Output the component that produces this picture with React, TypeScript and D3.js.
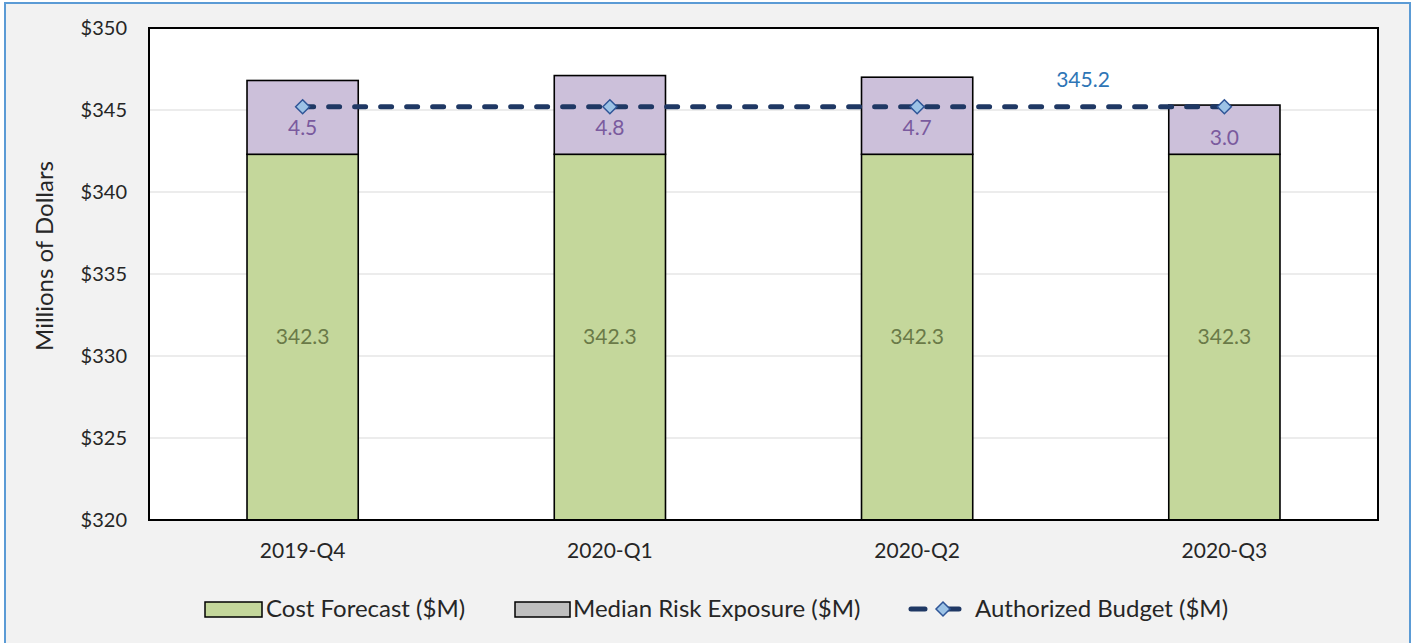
import React from "react";
import * as d3 from "d3";

const categories = ["2019-Q4", "2020-Q1", "2020-Q2", "2020-Q3"];
const costForecast = [342.3, 342.3, 342.3, 342.3];
const riskExposure = [4.5, 4.8, 4.7, 3.0];
const authorizedBudget = [345.2, 345.2, 345.2, 345.2];
const yTicks = [320, 325, 330, 335, 340, 345, 350];
const legendLabels = ["Cost Forecast ($M)", "Median Risk Exposure ($M)", "Authorized Budget ($M)"];

const W = 1414;
const H = 643;
const plot = { left: 149, right: 1378, top: 28, bottom: 520 };
const FONT = "Lato, 'Open Sans', 'DejaVu Sans', sans-serif";
const GREEN = "#c4d79b";
const PURPLE = "#ccc0da";
const NAVY = "#1f3864";

export default function App() {
  const x = d3.scaleBand<string>().domain(categories).range([plot.left, plot.right]).paddingInner(0).paddingOuter(0);
  const y = d3.scaleLinear().domain([320, 350]).range([plot.bottom, plot.top]);
  const bw = x.bandwidth() * 0.362;
  const cx = (c: string) => (x(c) as number) + x.bandwidth() / 2;

  const line = d3
    .line<number>()
    .x((_, i) => cx(categories[i]))
    .y((d) => y(d));

  const diamond = (px: number, py: number, r: number) =>
    `M${px},${py - r}L${px + r},${py}L${px},${py + r}L${px - r},${py}Z`;

  return (
    <div style={{ position: "absolute", left: 0, top: 0 }}>
      <svg width={W} height={H} style={{ display: "block" }}>
        <rect x={0} y={0} width={W} height={H} fill="#ffffff" />
        <rect x={5} y={3} width={1405} height={H} fill="#f2f2f2" stroke="#5b9bd5" strokeWidth={2} />
        <rect x={plot.left} y={plot.top} width={plot.right - plot.left} height={plot.bottom - plot.top} fill="#ffffff" />
        {yTicks.slice(1, -1).map((t) => (
          <line key={t} x1={plot.left} x2={plot.right} y1={y(t)} y2={y(t)} stroke="#d9d9d9" strokeWidth={1.2} />
        ))}
        {yTicks.map((t) => (
          <text key={t} x={127} y={y(t)} dy="0.35em" textAnchor="end" fontFamily={FONT} fontSize={20} fill="#262626">
            {d3.format("$")(t)}
          </text>
        ))}
        <text
          transform={`translate(45,256) rotate(-90)`}
          textAnchor="middle"
          dy="0.35em"
          fontFamily={FONT}
          fontSize={24}
          fill="#262626"
        >
          Millions of Dollars
        </text>
        {categories.map((c, i) => {
          const left = cx(c) - bw / 2;
          const y0 = y(320);
          const y1 = y(costForecast[i]);
          const y2 = y(costForecast[i] + riskExposure[i]);
          return (
            <g key={c}>
              <rect x={left} y={y1} width={bw} height={y0 - y1} fill={GREEN} stroke="#000" strokeWidth={1.6} />
              <rect x={left} y={y2} width={bw} height={y1 - y2} fill={PURPLE} stroke="#000" strokeWidth={1.6} />
              <text x={cx(c)} y={(y0 + y1) / 2} dy="0.35em" textAnchor="middle" fontFamily={FONT} fontSize={21} fill="#6a7a48">
                {costForecast[i].toFixed(1)}
              </text>
              <text x={cx(c)} y={Math.max((y1 + y2) / 2 + 8, y(343.9))} dy="0.35em" textAnchor="middle" fontFamily={FONT} fontSize={21} fill="#7a5a9e">
                {riskExposure[i].toFixed(1)}
              </text>
              <text x={cx(c)} y={551} dy="0.35em" textAnchor="middle" fontFamily={FONT} fontSize={21} fill="#262626">
                {c}
              </text>
            </g>
          );
        })}
        <rect x={plot.left} y={plot.top} width={plot.right - plot.left} height={plot.bottom - plot.top} fill="none" stroke="#000" strokeWidth={2} />
        <path d={line(authorizedBudget) || ""} fill="none" stroke={NAVY} strokeWidth={5} strokeDasharray="11 15" strokeLinecap="round" />
        {authorizedBudget.map((v, i) => (
          <path key={i} d={diamond(cx(categories[i]), y(v), 7)} fill="#9dc3e6" stroke="#2f5597" strokeWidth={1.5} />
        ))}
        <text x={1083} y={80} dy="0.35em" textAnchor="middle" fontFamily={FONT} fontSize={21} fill="#2e75b6">
          {authorizedBudget[3].toFixed(1)}
        </text>
        {/* Legend */}
        <g fontFamily={FONT} fontSize={24} fill="#262626">
          <rect x={205} y={602} width={57} height={15} fill={GREEN} stroke="#000" strokeWidth={1.5} />
          <text x={266} y={609} dy="0.35em">{legendLabels[0]}</text>
          <rect x={515} y={602} width={55} height={15} fill="#bfbfbf" stroke="#000" strokeWidth={1.5} />
          <text x={573} y={609} dy="0.35em">{legendLabels[1]}</text>
          <line x1={911} x2={966} y1={609} y2={609} stroke={NAVY} strokeWidth={5} strokeDasharray="14 20" strokeLinecap="round" />
          <path d={diamond(943, 609, 7)} fill="#9dc3e6" stroke="#2f5597" strokeWidth={1.5} />
          <text x={975} y={609} dy="0.35em">{legendLabels[2]}</text>
        </g>
      </svg>
    </div>
  );
}
